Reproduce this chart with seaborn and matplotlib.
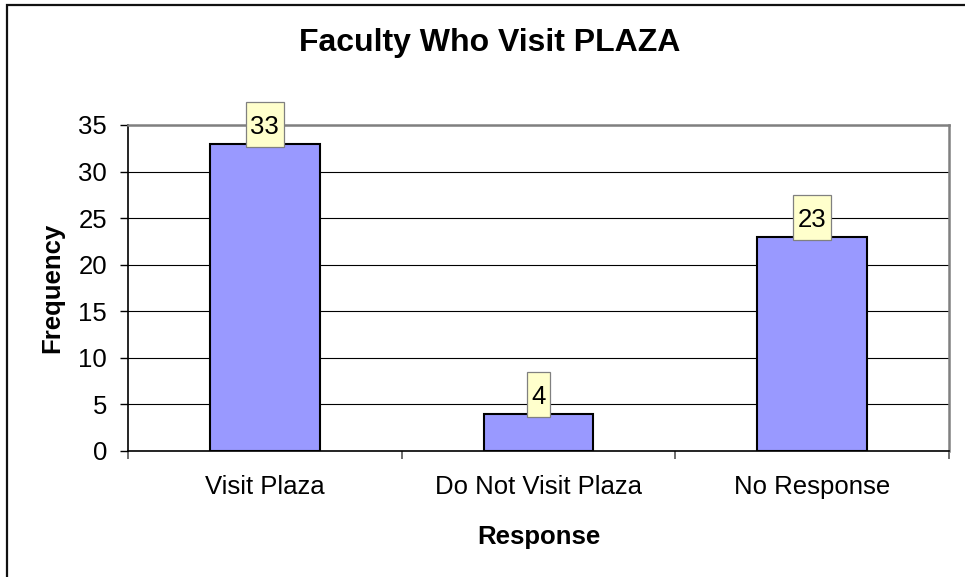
import matplotlib
matplotlib.use("Agg")
import matplotlib.pyplot as plt
import seaborn as sns
import pandas as pd
from matplotlib.patches import Rectangle

categorias = ["Visit Plaza", "Do Not Visit Plaza", "No Response"]
frecuencias = [33, 4, 23]
ticks_y = [0, 5, 10, 15, 20, 25, 30, 35]

sns.set_style("white")
plt.rcParams["font.family"] = ["Liberation Sans", "DejaVu Sans"]
for clave in ["text.color", "axes.labelcolor", "xtick.color", "ytick.color"]:
    plt.rcParams[clave] = "black"

W, H = 965, 577
df = pd.DataFrame({"Response": categorias, "Frequency": frecuencias})

fig = plt.figure(figsize=(W / 100, H / 100), dpi=100)
ax = fig.add_axes([128 / W, 1 - 451 / H, (949 - 128) / W, (451 - 125) / H])

# Marco exterior del gráfico (solo se ven el borde izquierdo y el superior)
fig.patches.append(Rectangle((7 / W, -0.05), 1.2, 1 - 4.5 / H + 0.05,
                             transform=fig.transFigure, fill=False,
                             edgecolor="#111111", linewidth=1.6, zorder=0))

sns.barplot(x="Response", y="Frequency", data=df, ax=ax, color="#9999FF",
            saturation=1, width=0.40, edgecolor="black", linewidth=1.5, zorder=3)

ax.set_ylim(0, 35)
ax.set_xlim(-0.5, 2.5)
ax.set_yticks(ticks_y)
ax.yaxis.grid(True, color="black", linewidth=0.8, zorder=0)
ax.set_axisbelow(True)

for spine in ["top", "right"]:
    ax.spines[spine].set_color("#808080")
    ax.spines[spine].set_linewidth(1.8)
for spine in ["left", "bottom"]:
    ax.spines[spine].set_color("black")
    ax.spines[spine].set_linewidth(1.2)

ax.set_xticks([-0.5, 0.5, 1.5, 2.5], minor=True)
ax.tick_params(axis="x", which="major", length=0, pad=17, labelsize=18.5)
ax.tick_params(axis="x", which="minor", length=5.8, width=1.2, color="#555555",
               direction="out", bottom=True)
ax.tick_params(axis="y", length=5.8, width=1, color="black", direction="out",
               left=True, labelsize=18.5, pad=9.4)

ax.set_xlabel("Response", fontsize=18.5, fontweight="bold", va="center")
ax.xaxis.set_label_coords(0.5, (451 - 537) / 326)
ax.set_ylabel("Frequency", fontsize=18.5, fontweight="bold", va="center")
ax.yaxis.set_label_coords((52 - 128) / 821, 0.5)

fig.text(489.5 / W, 1 - 43 / H, "Faculty Who Visit PLAZA",
         ha="center", va="center", fontsize=23, fontweight="bold")

# Etiquetas de datos en cajas amarillas
textos = []
for i, v in enumerate(frecuencias):
    t = ax.annotate(str(v), xy=(i, v), xytext=(0, 19 * 0.72), textcoords="offset points",
                    ha="center", va="center_baseline", fontsize=18.5, zorder=6)
    textos.append(t)

fig.canvas.draw()
inv = fig.transFigure.inverted()
for i, (v, t) in enumerate(zip(frecuencias, textos)):
    bb = t.get_window_extent()
    cx, cy = ax.transData.transform((i, v))
    x0, x1 = bb.x0 - 4.5, bb.x1 + 4.5
    y0, y1 = cy - 3.5, cy + 41.5
    (fx0, fy0), (fx1, fy1) = inv.transform([(x0, y0), (x1, y1)])
    ax.add_patch(Rectangle((fx0, fy0), fx1 - fx0, fy1 - fy0, transform=fig.transFigure,
                           facecolor="#FFFFCC", edgecolor="#808080", linewidth=0.9,
                           zorder=5, clip_on=False))

fig.savefig("out.png", dpi=100)
